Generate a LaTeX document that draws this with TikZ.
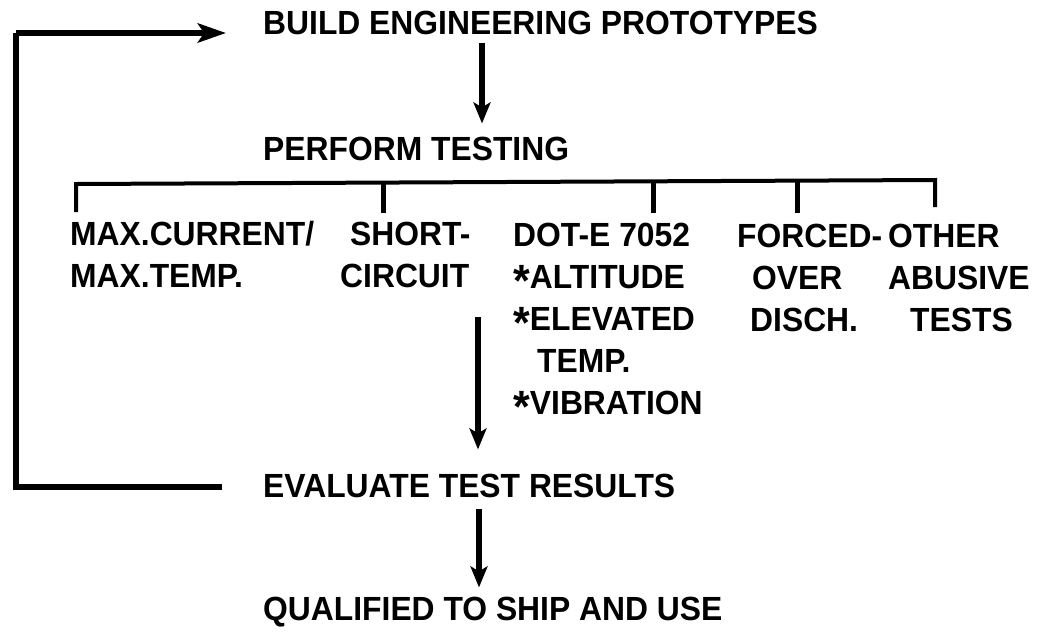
\documentclass[tikz,border=0pt]{standalone}
\usepackage{graphicx}
\usepackage{fontspec}
\newfontfamily\lbl{Liberation Sans}[FakeStretch=0.95]
\newcommand{\stx}{\raisebox{-0.26em}{\scalebox{1.35}{*}}}
\usetikzlibrary{arrows.meta}
\begin{document}
\begin{tikzpicture}[x=1pt,y=-1pt,
  lab/.style={inner sep=0pt, anchor=base west, align=left,
    font=\lbl\bfseries\fontsize{33.5}{42}\selectfont},
  arr/.style={line width=5.5pt, -{Stealth[length=21pt,width=17pt,inset=5pt]}},
  loopline/.style={line width=6.5pt},
  brk/.style={line width=4pt},
  tick/.style={line width=5pt}]
\useasboundingbox (0,0) rectangle (1040,635);
% texts (multi-line nodes: base = baseline of last line)
\node[lab] (build) at (263,34) {BUILD ENGINEERING PROTOTYPES};
\node[lab] (perform) at (263,160) {PERFORM TESTING};
\node[lab] (maxc) at (70,287) {MAX.CURRENT/\\MAX.TEMP.};
\node[lab] (short) at (340,287) {\hspace*{10pt}SHORT-\\CIRCUIT};
\node[lab] (dot) at (513,414) {DOT-E 7052\\\stx ALTITUDE\\\stx ELEVATED\\\hspace*{24pt}TEMP.\\\stx VIBRATION};
\node[lab] (forced) at (737,331) {FORCED-\\\hspace*{15pt}OVER\\\hspace*{13pt}DISCH.};
\node[lab] (other) at (888,331) {OTHER\\ABUSIVE\\\hspace*{22pt}TESTS};
\node[lab] (evaluate) at (263,497) {EVALUATE TEST RESULTS};
\node[lab] (qualified) at (263,620) {QUALIFIED TO SHIP AND USE};
% columns
\coordinate (c1) at (482,0);
\coordinate (c2) at (478,0);
\coordinate (c3) at (479,0);
% arrows
\draw[arr, shorten <=8pt, shorten >=13pt] (c1 |- build.south) -- (c1 |- perform.north);
\coordinate (a2s) at (478,317);
\draw[arr, shorten >=24pt] (a2s) -- (c2 |- evaluate.north);
\draw[arr, shorten <=11pt, shorten >=9pt] (c3 |- evaluate.south) -- (c3 |- qualified.north);
% feedback loop
\coordinate (lb) at (222,487);
\coordinate (lc) at (16,33);
\coordinate (lt) at (226,33);
\draw[loopline] (lb) -| (lc);
\draw[arr, line width=6.5pt, -{Stealth[length=28pt,width=19pt,inset=6pt]}] (lc) -- (lt);
% bracket
\coordinate (b0) at (76,184);
\coordinate (b4) at (935,180);
\coordinate (t0) at (76,212);
\coordinate (t4) at (935,207);
\draw[brk, line join=miter] (t0) -- (b0) -- (b4) -- (t4);
\foreach \x/\n in {383/1,653/2,797/3}{
  \coordinate (u\n) at (\x,182);
  \coordinate (d\n) at (\x,213);
  \draw[tick] (u\n) -- (d\n);
}
\end{tikzpicture}
\end{document}
